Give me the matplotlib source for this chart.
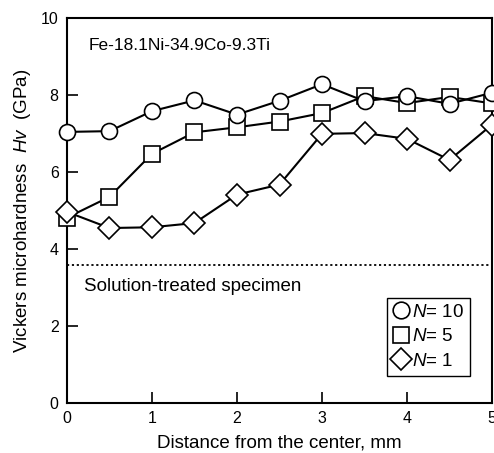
import numpy as np
import matplotlib
matplotlib.use('Agg')
import matplotlib.pyplot as plt

plt.rcParams['font.family'] = ['Liberation Sans', 'DejaVu Sans']
plt.rcParams['mathtext.fontset'] = 'custom'
plt.rcParams['mathtext.rm'] = 'Liberation Sans'
plt.rcParams['mathtext.it'] = 'Liberation Sans:italic'

# distance from the center, mm
distance = [0, 0.5, 1, 1.5, 2, 2.5, 3, 3.5, 4, 4.5, 5]
hv_n10 = [7.05, 7.07, 7.59, 7.87, 7.50, 7.86, 8.29, 7.85, 7.98, 7.78, 8.07]
hv_n5 = [4.82, 5.36, 6.48, 7.04, 7.17, 7.32, 7.54, 7.98, 7.80, 7.96, 7.79]
hv_n1 = [4.97, 4.55, 4.57, 4.68, 5.42, 5.68, 7.00, 7.02, 6.87, 6.32, 7.24]
solution_treated = 3.58

fig = plt.figure(figsize=(4.94, 4.53), dpi=100)
ax = fig.add_axes([0.1356, 0.1104, 0.8604, 0.8488])

ax.axhline(solution_treated, color='black', lw=1.3, ls=(0, (1.2, 1.5)))

style = dict(color='black', lw=1.5, mfc='white', mec='black', mew=1.2, clip_on=False)
l5, = ax.plot(distance, hv_n5, marker='s', ms=11.5, zorder=3, **style)
l1, = ax.plot(distance, hv_n1, marker='D', ms=11.5, zorder=4, **style)
l10, = ax.plot(distance, hv_n10, marker='o', ms=11.5, zorder=5, **style)

ax.set_xlim(0, 5)
ax.set_ylim(0, 10)
ax.set_xticks(range(0, 6))
ax.set_yticks(range(0, 11, 2))
ax.tick_params(direction='in', length=8, width=1.2, labelsize=11.5, pad=6,
               top=False, right=False)
for s in ax.spines.values():
    s.set_linewidth(1.5)

ax.set_xlabel('Distance from the center, mm', fontsize=13.5, labelpad=6)
ax.set_ylabel(r'Vickers microhardness  $\mathit{Hv}$  (GPa)', fontsize=13.5, labelpad=6)

ax.text(0.05, 0.95, 'Fe-18.1Ni-34.9Co-9.3Ti', transform=ax.transAxes,
        fontsize=12.5, va='top', ha='left')
ax.text(0.04, (solution_treated - 0.55) / 10, 'Solution-treated specimen',
        transform=ax.transAxes, fontsize=13.5, va='center', ha='left')

handles = [
    plt.Line2D([], [], ls='none', marker='o', ms=12, mfc='white', mec='black', mew=1.2),
    plt.Line2D([], [], ls='none', marker='s', ms=11.5, mfc='white', mec='black', mew=1.2),
    plt.Line2D([], [], ls='none', marker='D', ms=11, mfc='white', mec='black', mew=1.2),
]
labels = [r'$\mathit{N}$= 10', r'$\mathit{N}$= 5', r'$\mathit{N}$= 1']
leg = ax.legend(handles, labels, loc='upper left', bbox_to_anchor=(0.753, 0.273),
                borderaxespad=0, fancybox=False, edgecolor='black', framealpha=1,
                fontsize=13.5, handlelength=0.9, handletextpad=0.15,
                borderpad=0.3, labelspacing=0.4)
leg.get_frame().set_linewidth(1.0)

fig.savefig('out.png', dpi=100)
